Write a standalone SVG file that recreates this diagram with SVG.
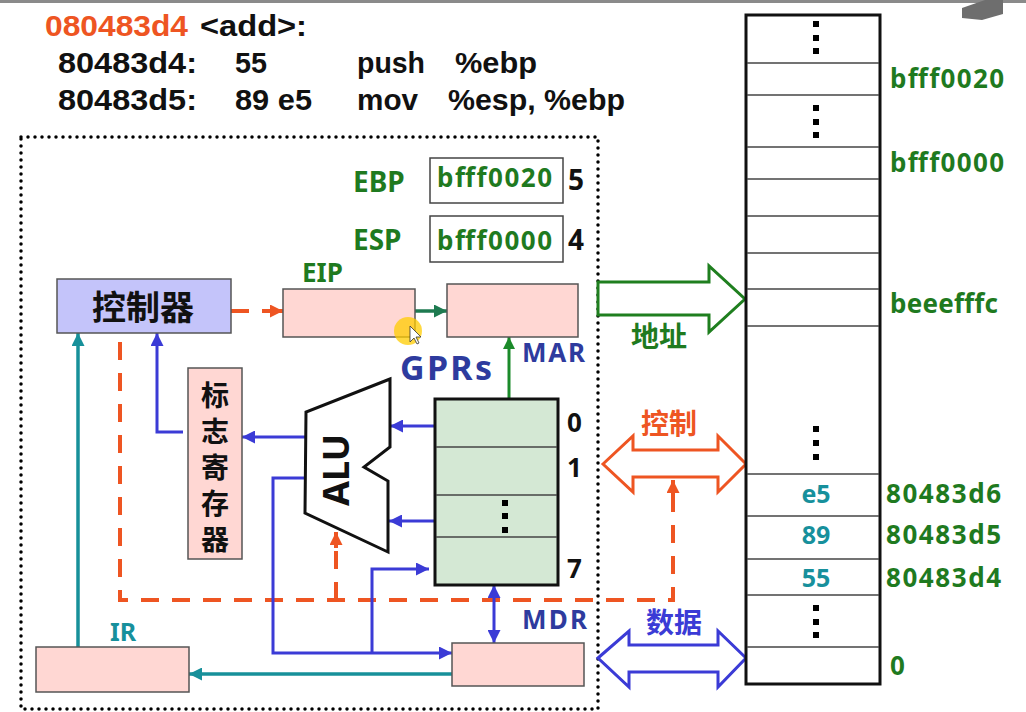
<svg xmlns="http://www.w3.org/2000/svg" width="1026" height="712" viewBox="0 0 1026 712">
<defs>
<style>
.t{font-family:"Noto Sans","Open Sans","Liberation Sans",sans-serif;}
.lib{font-family:"Liberation Sans","Noto Sans",sans-serif;}
.b{font-weight:bold;}
.cjk{font-family:"Noto Sans CJK SC","Noto Sans",sans-serif;font-weight:bold;}
.grn{fill:#1f7a1f;}
.dblue{fill:#2e3b9e;}
.teal{fill:#17909c;}
.org{fill:#ee5522;}
.pink{fill:#ffd7d3;stroke:#555;stroke-width:1.5;}
.blue{stroke:#3b3bd6;stroke-width:3;fill:none;}
.tealL{stroke:#17909a;stroke-width:3.5;fill:none;}
.dash{stroke:#ee5522;stroke-width:4;fill:none;stroke-dasharray:18 13;}
.row{stroke:#444;stroke-width:1.5;}
.dot{fill:#000;}
</style>
<marker id="mb" viewBox="0 0 10 10" refX="10" refY="5" markerWidth="13" markerHeight="13" markerUnits="userSpaceOnUse" orient="auto-start-reverse"><path d="M0,0 L10,5 L0,10 z" fill="#3b3bd6"/></marker>
<marker id="mt" viewBox="0 0 10 10" refX="10" refY="5" markerWidth="13" markerHeight="13" markerUnits="userSpaceOnUse" orient="auto"><path d="M0,0 L10,5 L0,10 z" fill="#17909a"/></marker>
<marker id="mo" viewBox="0 0 10 10" refX="10" refY="5" markerWidth="13" markerHeight="13" markerUnits="userSpaceOnUse" orient="auto"><path d="M0,0 L10,5 L0,10 z" fill="#ee5522"/></marker>
<marker id="mg" viewBox="0 0 10 10" refX="10" refY="5" markerWidth="13" markerHeight="13" markerUnits="userSpaceOnUse" orient="auto"><path d="M0,0 L10,5 L0,10 z" fill="#1e7a50"/></marker>
<marker id="mg2" viewBox="0 0 10 10" refX="10" refY="5" markerWidth="12" markerHeight="12" markerUnits="userSpaceOnUse" orient="auto"><path d="M0,0 L10,5 L0,10 z" fill="#1b8a2a"/></marker>
</defs>
<rect x="0" y="0" width="1026" height="712" fill="#ffffff"/>
<rect x="0" y="0" width="1026" height="3" fill="#8a8a8a"/>
<polygon points="962,8 985,0 1003,0 1003,14 982,20 962,18" fill="#6e6e6e"/>

<!-- code listing -->
<g id="code" class="lib b" font-size="30" fill="#111">
<text x="45" y="36" class="org" textLength="143" lengthAdjust="spacingAndGlyphs">080483d4</text>
<text x="200" y="36" textLength="107" lengthAdjust="spacingAndGlyphs">&lt;add&gt;:</text>
<text x="58" y="73" textLength="139" lengthAdjust="spacingAndGlyphs">80483d4:</text>
<text x="235" y="73" textLength="32" lengthAdjust="spacingAndGlyphs">55</text>
<text x="357" y="73" textLength="68" lengthAdjust="spacingAndGlyphs">push</text>
<text x="455" y="73" textLength="82" lengthAdjust="spacingAndGlyphs">%ebp</text>
<text x="58" y="110" textLength="139" lengthAdjust="spacingAndGlyphs">80483d5:</text>
<text x="235" y="110" textLength="77" lengthAdjust="spacingAndGlyphs">89 e5</text>
<text x="357" y="110" textLength="61" lengthAdjust="spacingAndGlyphs">mov</text>
<text x="448" y="110" textLength="177" lengthAdjust="spacingAndGlyphs">%esp, %ebp</text>
</g>

<!-- CPU boundary -->
<rect id="cpu" x="21" y="137" width="577" height="572" fill="none" stroke="#000" stroke-width="3.5" stroke-linecap="round" stroke-dasharray="0 7"/>

<!-- connectors -->
<g id="connectors">
<path class="dash" d="M120,342 V600 H673 V492"/>
<path d="M673,496 V480" stroke="#ee5522" stroke-width="4" marker-end="url(#mo)"/>
<path class="dash" d="M336,600 V545"/>
<path d="M336,548 V532" stroke="#ee5522" stroke-width="4" marker-end="url(#mo)"/>
<path class="dash" d="M231,311 H252"/>
<path d="M262,311 H283" stroke="#ee5522" stroke-width="4" marker-end="url(#mo)"/>
<path d="M415,311 H447" stroke="#1e7a50" stroke-width="3.5" marker-end="url(#mg)"/>
<path d="M509,399 V337" stroke="#1b8a2a" stroke-width="3" marker-end="url(#mg2)"/>
<path class="tealL" d="M78,647 V333" marker-end="url(#mt)"/>
<path class="tealL" d="M452,674 H189" marker-end="url(#mt)"/>
<path class="blue" d="M183,432 H157 V333" marker-end="url(#mb)"/>
<path class="blue" d="M305,437 H242" marker-end="url(#mb)"/>
<path class="blue" d="M435,426 H390" marker-end="url(#mb)"/>
<path class="blue" d="M435,521 H389" marker-end="url(#mb)"/>
<path class="blue" d="M305,478 H273 V653 H452" marker-end="url(#mb)"/>
<path class="blue" d="M372,653 V569 H429" marker-end="url(#mb)"/>
<path class="blue" d="M494,585 V643" marker-start="url(#mb)" marker-end="url(#mb)"/>
</g>

<!-- controller -->
<g id="controller">
<rect x="57" y="279" width="174" height="54" fill="#c4c4fa" stroke="#555" stroke-width="1.5"/>
<text x="143" y="320" class="cjk" font-size="34" text-anchor="middle" fill="#111">控制器</text>
</g>

<!-- flags register -->
<g id="flags">
<rect class="pink" x="188" y="368" width="54" height="191"/>
<text x="215" y="381" class="cjk" font-size="28" fill="#111" style="writing-mode:vertical-rl;letter-spacing:8px">标志寄存器</text>
</g>

<!-- EIP -->
<g id="eip">
<rect class="pink" x="283" y="289" width="132" height="48"/>
<text x="302" y="282" class="t b grn" font-size="26">EIP</text>
</g>

<!-- cursor highlight -->
<circle cx="408" cy="331" r="14" fill="#ffcc00" opacity="0.75"/>
<path d="M410,326 L410,342 L414,338 L417,344 L419,343 L416,337 L421,337 Z" fill="#fff" stroke="#333" stroke-width="0.8"/>

<!-- MAR -->
<g id="mar">
<rect class="pink" x="447" y="284" width="131" height="53"/>
<text x="522" y="362" class="t b dblue" font-size="26" textLength="63">MAR</text>
</g>

<!-- EBP / ESP -->
<g id="ebp">
<text x="353" y="192" class="t b grn" font-size="28">EBP</text>
<rect x="430" y="158" width="133" height="45" fill="#fff" stroke="#444" stroke-width="1.5"/>
<text x="437" y="187" class="t b grn" font-size="26" textLength="115">bfff0020</text>
<text x="568" y="190" class="t b" font-size="28" fill="#111">5</text>
</g>
<g id="esp">
<text x="353" y="250" class="t b grn" font-size="28">ESP</text>
<rect x="430" y="216" width="133" height="46" fill="#fff" stroke="#444" stroke-width="1.5"/>
<text x="437" y="250" class="t b grn" font-size="26" textLength="115">bfff0000</text>
<text x="568" y="250" class="t b" font-size="28" fill="#111">4</text>
</g>

<!-- ALU -->
<g id="alu">
<polygon points="390,379 306,412 305,513 388,552 388,481 364,467 390,447" fill="#fff" stroke="#111" stroke-width="3" stroke-linejoin="miter"/>
<text transform="translate(335,470) rotate(-90)" class="t b" font-size="36" text-anchor="middle" dominant-baseline="central" fill="#111">ALU</text>
</g>

<!-- GPRs -->
<g id="gprs">
<text x="400" y="380" class="t b dblue" font-size="34" textLength="92">GPRs</text>
<rect x="435" y="399" width="123" height="186" fill="#d4e8d4" stroke="#111" stroke-width="3"/>
<line class="row" x1="436" y1="447" x2="557" y2="447"/>
<line class="row" x1="436" y1="495" x2="557" y2="495"/>
<line class="row" x1="436" y1="537" x2="557" y2="537"/>
<rect class="dot" x="502" y="500" width="6" height="6"/>
<rect class="dot" x="502" y="513" width="6" height="6"/>
<rect class="dot" x="502" y="527" width="6" height="6"/>
<g class="t b" font-size="26" fill="#111">
<text x="567" y="432">0</text>
<text x="567" y="477">1</text>
<text x="567" y="578">7</text>
</g>
</g>

<!-- MDR -->
<g id="mdr">
<rect class="pink" x="452" y="643" width="132" height="43"/>
<text x="522" y="629" class="t b dblue" font-size="26" textLength="65">MDR</text>
</g>

<!-- IR -->
<g id="ir">
<rect class="pink" x="36" y="647" width="153" height="45"/>
<text x="110" y="641" class="t b teal" font-size="25">IR</text>
</g>

<!-- buses -->
<g id="addr-bus">
<polygon points="598,282 709,282 709,266 745,299 709,332 709,315 598,315" fill="#fff" stroke="#1f7f1f" stroke-width="3"/>
<text x="631" y="347" class="cjk grn" font-size="28">地址</text>
</g>
<g id="ctrl-bus">
<polygon points="603,464 633,436 633,450 718,450 718,436 746,464 718,492 718,477 633,477 633,492" fill="#fff" stroke="#ee5522" stroke-width="3"/>
<text x="641" y="434" class="cjk org" font-size="28">控制</text>
</g>
<g id="data-bus">
<polygon points="598,658 629,631 629,645 718,645 718,631 746,658 718,687 718,672 629,672 629,687" fill="#fff" stroke="#3b3bd6" stroke-width="3"/>
<text x="646" y="633" class="cjk" font-size="28" fill="#3b3bd6">数据</text>
</g>

<!-- memory -->
<g id="memory">
<rect x="746" y="15" width="134" height="669" fill="#fff" stroke="#111" stroke-width="3"/>
<line class="row" x1="747" y1="63" x2="879" y2="63"/>
<line class="row" x1="747" y1="95" x2="879" y2="95"/>
<line class="row" x1="747" y1="147" x2="879" y2="147"/>
<line class="row" x1="747" y1="179" x2="879" y2="179"/>
<line class="row" x1="747" y1="216" x2="879" y2="216"/>
<line class="row" x1="747" y1="253" x2="879" y2="253"/>
<line class="row" x1="747" y1="289" x2="879" y2="289"/>
<line class="row" x1="747" y1="326" x2="879" y2="326"/>
<line class="row" x1="747" y1="474" x2="879" y2="474"/>
<line class="row" x1="747" y1="516" x2="879" y2="516"/>
<line class="row" x1="747" y1="559" x2="879" y2="559"/>
<line class="row" x1="747" y1="595" x2="879" y2="595"/>
<line class="row" x1="747" y1="647" x2="879" y2="647"/>
<rect class="dot" x="813" y="21" width="6" height="6"/>
<rect class="dot" x="813" y="35" width="6" height="6"/>
<rect class="dot" x="813" y="48" width="6" height="6"/>
<rect class="dot" x="813" y="105" width="6" height="6"/>
<rect class="dot" x="813" y="119" width="6" height="6"/>
<rect class="dot" x="813" y="132" width="6" height="6"/>
<rect class="dot" x="813" y="426" width="6" height="6"/>
<rect class="dot" x="813" y="440" width="6" height="6"/>
<rect class="dot" x="813" y="454" width="6" height="6"/>
<rect class="dot" x="813" y="605" width="6" height="6"/>
<rect class="dot" x="813" y="619" width="6" height="6"/>
<rect class="dot" x="813" y="632" width="6" height="6"/>
<g class="t b teal" font-size="25" text-anchor="middle">
<text x="816" y="503">e5</text>
<text x="816" y="544">89</text>
<text x="816" y="587">55</text>
</g>
<g class="t b grn" font-size="26">
<text x="890" y="88" textLength="114">bfff0020</text>
<text x="890" y="172" textLength="114">bfff0000</text>
<text x="890" y="313" textLength="108">beeefffc</text>
<text x="886" y="503" textLength="115">80483d6</text>
<text x="886" y="544" textLength="115">80483d5</text>
<text x="886" y="587" textLength="115">80483d4</text>
<text x="890" y="675">0</text>
</g>
</g>
</svg>
